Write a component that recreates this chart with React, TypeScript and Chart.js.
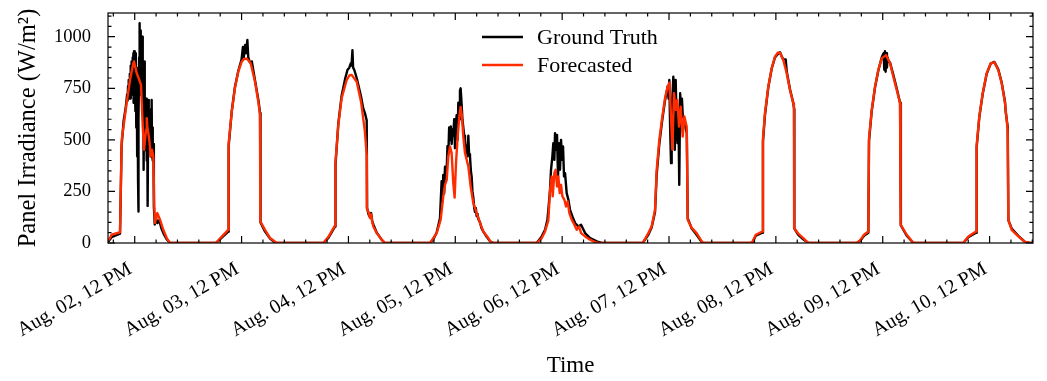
import React, { useEffect, useRef } from "react";
import { Chart, registerables } from "chart.js";

Chart.register(...registerables);

// ---- Data: [hour of day, W/m²] per day (Aug. 02 .. Aug. 10) ----
const truthAug02 = [[6.0,5],[6.8,28],[8.7,45],[9.05,470],[9.5,590],[10.0,660],[10.3,720],[10.4,690],[10.5,760],[10.6,700],[10.7,790],[10.8,730],[10.9,820],[11.0,700],[11.1,860],[11.2,760],[11.3,880],[11.4,720],[11.5,900],[11.6,760],[11.7,920],[11.75,680],[11.85,930],[11.95,720],[12.05,900],[12.15,640],[12.25,920],[12.35,560],[12.45,850],[12.55,420],[12.65,700],[12.75,300],[12.8,153],[12.9,600],[13.0,900],[13.1,1065],[13.2,750],[13.3,1030],[13.4,720],[13.5,980],[13.6,767],[13.7,1000],[13.8,620],[13.9,870],[14.0,355],[14.1,700],[14.2,880],[14.3,450],[14.4,690],[14.5,520],[14.6,700],[14.7,400],[14.8,650],[14.9,180],[15.0,520],[15.1,694],[15.2,450],[15.3,640],[15.4,470],[15.5,600],[15.6,420],[15.7,650],[15.8,694],[15.9,430],[16.0,560],[16.1,400],[16.2,480],[16.3,177],[16.5,90],[16.8,120],[17.1,97],[17.5,110],[18.0,70],[18.6,40],[19.2,18],[19.9,0]];
const forecastAug02 = [[6.0,12],[6.45,24],[6.8,40],[8.7,52],[9.08,500],[10.2,680],[10.94,790],[11.69,871],[11.84,880],[12.45,823],[13.03,790],[13.41,767],[13.8,565],[14.09,452],[14.54,548],[14.7,605],[14.83,565],[15.28,500],[15.59,419],[15.89,452],[16.18,419],[16.4,177],[16.56,97],[17.08,145],[17.68,113],[18.42,64],[19.19,24],[19.93,0]];

const truthAug03 = [[6.26,0],[7.5,25],[9.0,55],[9.1,470],[9.8,640],[10.5,755],[11.27,835],[12.0,890],[12.3,950],[12.5,900],[12.8,960],[13.0,920],[13.3,984],[13.5,900],[13.8,880],[14.1,870],[14.3,880],[15.0,790],[15.8,690],[16.15,630],[16.25,100],[17.2,58],[18.4,22],[19.6,0]];
const forecastAug03 = [[6.26,0],[7.5,30],[9.0,64],[9.1,484],[9.8,637],[10.5,750],[11.27,831],[12.03,879],[12.6,893],[13.2,893],[14.05,871],[15.02,782],[15.76,685],[16.14,621],[16.2,105],[17.27,64],[18.39,24],[19.9,0]];

const truthAug04 = [[6.36,0],[7.5,25],[9.0,80],[9.1,380],[9.73,580],[10.48,715],[11.3,800],[11.8,840],[12.2,850],[12.5,870],[12.7,860],[12.9,935],[13.05,850],[13.3,840],[13.86,800],[14.83,710],[15.3,655],[15.7,630],[16.1,595],[16.2,170],[16.5,140],[16.85,125],[17.1,145],[17.35,105],[17.6,90],[18.36,50],[19.48,15],[20.2,0]];
const forecastAug04 = [[6.36,0],[7.5,30],[9.0,85],[9.1,395],[9.73,573],[10.48,702],[11.6,790],[12.2,812],[12.72,815],[13.86,782],[14.83,685],[15.7,540],[16.1,427],[16.12,169],[16.5,150],[16.85,121],[17.1,140],[17.35,100],[17.6,80],[18.36,48],[19.48,16],[20.2,0]];

const truthAug05 = [[6.3,0],[7.0,15],[7.8,50],[8.56,120],[8.93,300],[9.1,200],[9.3,330],[9.5,240],[9.69,370],[9.9,300],[10.07,360],[10.25,470],[10.44,430],[10.62,560],[10.81,500],[11.0,565],[11.18,480],[11.37,550],[11.56,520],[11.75,600],[11.93,460],[12.1,560],[12.3,620],[12.5,500],[12.68,680],[12.85,600],[13.05,740],[13.2,750],[13.43,670],[13.6,600],[13.8,560],[14.0,520],[14.18,500],[14.37,450],[14.56,470],[14.75,420],[14.93,520],[15.1,430],[15.3,420],[15.5,350],[15.68,320],[15.85,250],[16.05,220],[16.25,170],[16.43,150],[16.6,170],[16.8,130],[17.0,140],[17.18,115],[17.55,100],[17.93,70],[18.3,55],[19.05,30],[19.8,8],[20.55,0]];
const forecastAug05 = [[6.32,0],[7.82,48],[8.72,113],[9.3,226],[9.69,282],[10.07,306],[10.43,419],[10.81,468],[11.18,436],[11.55,290],[11.85,220],[12.16,387],[12.53,516],[12.9,613],[13.2,660],[13.5,613],[13.8,516],[14.18,436],[14.56,403],[14.93,371],[15.45,274],[16.04,194],[16.8,145],[17.55,97],[18.3,56],[19.4,24],[20.1,0]];

const truthAug06 = [[6.29,0],[7.41,32],[8.16,64],[8.69,113],[8.9,161],[9.28,258],[9.5,355],[9.8,419],[10.02,484],[10.25,403],[10.4,532],[10.62,452],[10.85,524],[11.07,322],[11.3,484],[11.52,355],[11.75,500],[11.97,403],[12.2,468],[12.42,322],[12.65,339],[13.02,242],[13.4,210],[13.77,161],[14.3,129],[14.9,97],[15.65,80],[16.25,89],[17.15,48],[18.27,24],[19.77,8],[20.9,0]];
const forecastAug06 = [[6.3,0],[7.42,24],[8.16,56],[8.9,110],[9.28,258],[9.66,322],[9.88,226],[10.25,339],[10.55,355],[10.85,274],[11.15,322],[11.45,242],[11.75,282],[12.05,226],[12.5,210],[12.87,177],[13.25,202],[13.62,145],[14.15,113],[14.75,89],[15.27,64],[15.8,80],[16.25,48],[17.15,32],[18.27,16],[19.4,4],[20.1,0]];

const truthAug07 = [[6.1,0],[7.35,40],[8.1,75],[8.86,150],[9.23,330],[9.82,480],[10.5,600],[11.1,690],[11.7,760],[11.9,700],[12.07,790],[12.25,560],[12.45,387],[12.6,600],[12.75,700],[12.97,806],[13.15,660],[13.3,452],[13.5,790],[13.7,600],[13.9,484],[14.1,650],[14.3,282],[14.5,726],[14.7,645],[14.9,700],[15.1,613],[15.4,600],[15.7,560],[16.0,532],[16.2,120],[17.1,70],[18.2,40],[19.34,5],[19.7,0]];
const forecastAug07 = [[6.1,0],[7.35,48],[8.1,80],[8.86,161],[9.23,355],[9.82,500],[10.5,613],[11.1,702],[11.7,758],[12.07,777],[12.38,645],[12.75,452],[13.12,726],[13.5,645],[13.87,694],[14.25,564],[14.62,661],[15.07,516],[15.45,613],[15.97,564],[16.2,113],[17.1,73],[18.2,48],[19.34,8],[19.7,0]];

const truthAug08 = [[6.34,0],[6.8,5],[7.5,35],[8.95,50],[9.1,490],[9.55,620],[10.3,755],[11.06,845],[11.8,900],[12.4,915],[12.92,925],[13.3,905],[13.66,890],[14.2,890],[14.45,830],[15.17,745],[15.9,680],[16.1,650],[16.15,70],[17.03,40],[18.15,18],[19.3,0]];
const forecastAug08 = [[6.34,0],[6.8,8],[7.5,40],[8.95,56],[9.1,505],[9.55,629],[10.3,758],[11.06,847],[11.8,903],[12.4,922],[12.92,923],[13.66,887],[14.43,823],[15.17,742],[15.9,678],[16.05,661],[16.1,73],[17.03,45],[18.15,24],[19.3,0]];

const truthAug09 = [[6.16,0],[7.0,12],[7.8,35],[8.77,50],[8.92,495],[9.53,640],[10.27,755],[11.0,835],[11.78,900],[12.2,920],[12.35,840],[12.5,930],[12.65,830],[12.8,920],[12.95,850],[13.1,900],[13.3,880],[13.64,875],[14.38,815],[15.14,750],[15.89,680],[16.05,660],[16.1,85],[17.39,35],[18.9,0]];
const forecastAug09 = [[6.16,0],[7.0,15],[7.8,40],[8.77,56],[8.92,508],[9.53,645],[10.27,758],[11.0,839],[11.78,895],[12.74,911],[13.64,871],[14.38,806],[15.14,742],[15.89,678],[16.0,662],[16.05,89],[17.39,40],[18.9,0]];

const truthAug10 = [[6.09,0],[7.22,28],[8.95,50],[9.1,465],[9.69,610],[10.45,722],[11.35,820],[12.25,870],[13.06,878],[13.95,842],[14.72,778],[15.46,685],[15.6,640],[16.08,560],[16.22,110],[16.96,70],[18.45,35],[19.95,5],[21.07,0],[21.75,0]];
const forecastAug10 = [[6.09,0],[7.22,32],[8.95,56],[9.1,476],[9.69,613],[10.45,726],[11.35,823],[12.25,871],[13.06,876],[13.95,839],[14.72,774],[15.46,678],[16.06,548],[16.2,113],[16.96,64],[18.45,32],[19.95,5],[21.07,0],[21.75,0]];

const truthByDay = [truthAug02, truthAug03, truthAug04, truthAug05, truthAug06, truthAug07, truthAug08, truthAug09, truthAug10];
const forecastByDay = [forecastAug02, forecastAug03, forecastAug04, forecastAug05, forecastAug06, forecastAug07, forecastAug08, forecastAug09, forecastAug10];

// ---- Ticks ----
const xTickHours = [12, 36, 60, 84, 108, 132, 156, 180, 204]; // hours since Aug. 02 00:00
const xTickLabels = ["Aug. 02, 12 PM", "Aug. 03, 12 PM", "Aug. 04, 12 PM", "Aug. 05, 12 PM", "Aug. 06, 12 PM", "Aug. 07, 12 PM", "Aug. 08, 12 PM", "Aug. 09, 12 PM", "Aug. 10, 12 PM"];
const xMinHour = 6;
const xMaxHour = 213.75;
const yTickValues = [0, 250, 500, 750, 1000];
const yMax = 1115;

const seriesNames = ["Ground Truth", "Forecasted"];
const seriesColors = ["#000000", "#FF2C00"];

const FONT = "'Liberation Serif', 'Times New Roman', serif";

function toPoints(days: number[][][]) {
  const pts: { x: number; y: number }[] = [];
  days.forEach((day, d) => day.forEach(([h, v]) => pts.push({ x: d * 24 + h, y: v })));
  return pts;
}

const framePlugin = {
  id: "frameTicks",
  afterDatasetsDraw(chart: any) {
    const { ctx, chartArea: a, scales } = chart;
    const xs = scales.x;
    const ys = scales.y;
    ctx.save();
    ctx.strokeStyle = "#000";
    ctx.lineWidth = 1.2;
    ctx.strokeRect(a.left, a.top, a.right - a.left, a.bottom - a.top);
    ctx.beginPath();
    const vt = (px: number, len: number) => {
      ctx.moveTo(px, a.bottom);
      ctx.lineTo(px, a.bottom - len);
      ctx.moveTo(px, a.top);
      ctx.lineTo(px, a.top + len);
    };
    const ht = (py: number, len: number) => {
      ctx.moveTo(a.left, py);
      ctx.lineTo(a.left + len, py);
      ctx.moveTo(a.right, py);
      ctx.lineTo(a.right - len, py);
    };
    const step = 24 / 5;
    xTickHours.forEach((h) => vt(xs.getPixelForValue(h), 7));
    for (let k = -5; k < xTickHours.length * 5 + 5; k++) {
      if (k % 5 === 0) continue;
      const h = xTickHours[0] + k * step;
      if (h < xMinHour || h > xMaxHour) continue;
      vt(xs.getPixelForValue(h), 3.5);
    }
    yTickValues.forEach((v) => ht(ys.getPixelForValue(v), 7));
    for (let v = 50; v <= yMax; v += 50) {
      if (v % 250 === 0) continue;
      ht(ys.getPixelForValue(v), 3.5);
    }
    ctx.stroke();
    ctx.restore();
  },
  afterDraw(chart: any) {
    const { ctx } = chart;
    ctx.save();
    ctx.font = `22px ${FONT}`;
    ctx.textBaseline = "middle";
    ctx.textAlign = "left";
    const rows = [37, 65];
    seriesNames.forEach((name, i) => {
      ctx.strokeStyle = seriesColors[i];
      ctx.lineWidth = 2.6;
      ctx.beginPath();
      ctx.moveTo(482, rows[i]);
      ctx.lineTo(523, rows[i]);
      ctx.stroke();
      ctx.fillStyle = "#000";
      ctx.fillText(name, 537, rows[i] + 1);
    });
    ctx.restore();
  },
};

export default function App() {
  const ref = useRef<HTMLCanvasElement | null>(null);
  useEffect(() => {
    if (!ref.current) return;
    const chart = new Chart(ref.current, {
      type: "line",
      data: {
        datasets: [
          {
            label: seriesNames[0],
            data: toPoints(truthByDay),
            borderColor: seriesColors[0],
            borderWidth: 2.4,
            pointRadius: 0,
            tension: 0,
            borderJoinStyle: "round",
            order: 2,
          },
          {
            label: seriesNames[1],
            data: toPoints(forecastByDay),
            borderColor: seriesColors[1],
            borderWidth: 2.4,
            pointRadius: 0,
            tension: 0,
            borderJoinStyle: "round",
            order: 1,
          },
        ],
      },
      options: {
        responsive: false,
        animation: false,
        layout: { padding: { left: 0, top: 13, right: 14, bottom: 0 } },
        plugins: { legend: { display: false }, tooltip: { enabled: false } },
        scales: {
          x: {
            type: "linear",
            min: xMinHour,
            max: xMaxHour,
            grid: { display: false, drawTicks: false },
            border: { display: false },
            afterBuildTicks: (scale: any) => {
              scale.ticks = xTickHours.map((v) => ({ value: v }));
            },
            afterFit: (scale: any) => {
              scale.height = 138;
              scale.paddingLeft = 0;
              scale.paddingRight = 0;
            },
            ticks: {
              autoSkip: false,
              minRotation: 30,
              maxRotation: 30,
              padding: 12,
              color: "#000",
              font: { family: FONT, size: 20 },
              callback: (_v: any, i: number) => xTickLabels[i] + " ",
            },
            title: {
              display: true,
              text: "Time",
              color: "#000",
              font: { family: FONT, size: 23 },
              padding: { top: 0, bottom: 1 },
            },
          },
          y: {
            type: "linear",
            min: 0,
            max: yMax,
            grid: { display: false, drawTicks: false },
            border: { display: false },
            afterBuildTicks: (scale: any) => {
              scale.ticks = yTickValues.map((v) => ({ value: v }));
            },
            afterFit: (scale: any) => {
              scale.width = 108;
              scale.paddingTop = 0;
              scale.paddingBottom = 0;
            },
            ticks: {
              padding: 17,
              color: "#000",
              font: { family: FONT, size: 18.5 },
              callback: (v: any) => String(v),
            },
            title: {
              display: true,
              text: "Panel Irradiance (W/m²)",
              color: "#000",
              font: { family: FONT, size: 24.5 },
              padding: { top: 14, bottom: 0 },
            },
          },
        },
      },
      plugins: [framePlugin],
    } as any);
    return () => chart.destroy();
  }, []);
  return (
    <div style={{ position: "absolute", left: 0, top: 0, width: 1047, height: 381, background: "#fff" }}>
      <canvas ref={ref} width={1047} height={381} />
    </div>
  );
}
